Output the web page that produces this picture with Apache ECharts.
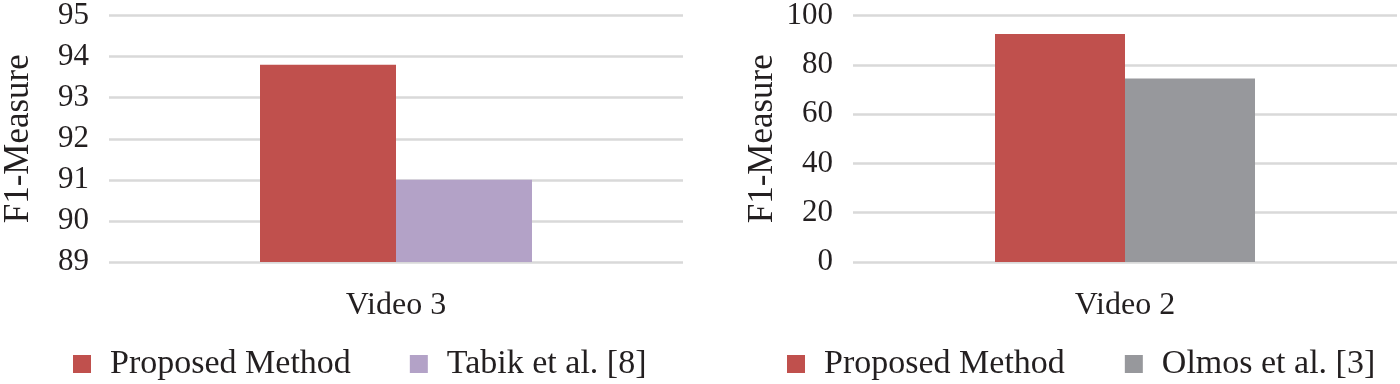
<!DOCTYPE html>
<html>
<head>
<meta charset="utf-8">
<script src="https://cdn.jsdelivr.net/npm/echarts@6/dist/echarts.min.js"></script>
<style>
html,body{margin:0;padding:0;background:#fff;}
#c{width:1400px;height:384px;}
</style>
</head>
<body>
<div id="c"></div>
<script>
// Data
const leftCategories = ['Video 3'];
const leftProposed = [93.8];
const leftTabik = [91.0];
const leftTicks = [89, 90, 91, 92, 93, 94, 95];

const rightCategories = ['Video 2'];
const rightProposed = [92.5];
const rightOlmos = [74.4];
const rightTicks = [0, 20, 40, 60, 80, 100];

const seriesNames = ['Proposed Method', 'Tabik et al. [8]', 'Olmos et al. [3]'];

const FONT = "'Liberation Serif', 'Times New Roman', serif";
const TXT = '#231f20';
const RED = '#c0504d';
const PURPLE = '#b3a2c7';
const GRAY = '#97989c';
const GRID = '#d9d9d9';

const chart = echarts.init(document.getElementById('c'));

function yAxis(gridIndex, ticks, gap) {
  return {
    type: 'value',
    gridIndex: gridIndex,
    min: ticks[0],
    max: ticks[ticks.length - 1],
    interval: ticks[1] - ticks[0],
    name: 'F1-Measure',
    nameLocation: 'middle',
    nameRotate: 90,
    nameGap: gap,
    nameTextStyle: { fontFamily: FONT, fontSize: 35, color: TXT },
    axisLine: { show: false },
    axisTick: { show: false },
    axisLabel: { fontFamily: FONT, fontSize: 31, color: TXT, margin: 20 },
    splitLine: { show: true, lineStyle: { color: GRID, width: 2.5 } }
  };
}

function xAxis(gridIndex, cats) {
  return {
    type: 'category',
    gridIndex: gridIndex,
    data: cats,
    axisLine: { show: false },
    axisTick: { show: false },
    axisLabel: { fontFamily: FONT, fontSize: 32, color: TXT, margin: 28 }
  };
}

const legendText = { fontFamily: FONT, fontSize: 34, color: TXT, padding: [0, 0, 0, 14] };

chart.setOption({
  animation: false,
  backgroundColor: '#fff',
  grid: [
    { left: 108, right: 717, top: 13, bottom: 122 },
    { left: 853, right: 3, top: 13, bottom: 122 }
  ],
  xAxis: [xAxis(0, leftCategories), xAxis(1, rightCategories)],
  yAxis: [yAxis(0, leftTicks, 73), yAxis(1, rightTicks, 73)],
  legend: [
    {
      data: [seriesNames[0], seriesNames[1]],
      left: 73, top: 347, padding: 0,
      itemWidth: 18, itemHeight: 18, itemGap: 59,
      icon: 'rect',
      textStyle: legendText
    },
    {
      data: [seriesNames[0], seriesNames[2]],
      left: 787, top: 347, padding: 0,
      itemWidth: 18, itemHeight: 18, itemGap: 60,
      icon: 'rect',
      textStyle: legendText
    }
  ],
  series: [
    { name: seriesNames[0], type: 'bar', xAxisIndex: 0, yAxisIndex: 0, data: leftProposed, barWidth: 136, barGap: '0%', itemStyle: { color: RED } },
    { name: seriesNames[1], type: 'bar', xAxisIndex: 0, yAxisIndex: 0, data: leftTabik, barWidth: 136, barGap: '0%', itemStyle: { color: PURPLE } },
    { name: seriesNames[0], type: 'bar', xAxisIndex: 1, yAxisIndex: 1, data: rightProposed, barWidth: 130, barGap: '0%', itemStyle: { color: RED } },
    { name: seriesNames[2], type: 'bar', xAxisIndex: 1, yAxisIndex: 1, data: rightOlmos, barWidth: 130, barGap: '0%', itemStyle: { color: GRAY } }
  ]
});
</script>
</body>
</html>
